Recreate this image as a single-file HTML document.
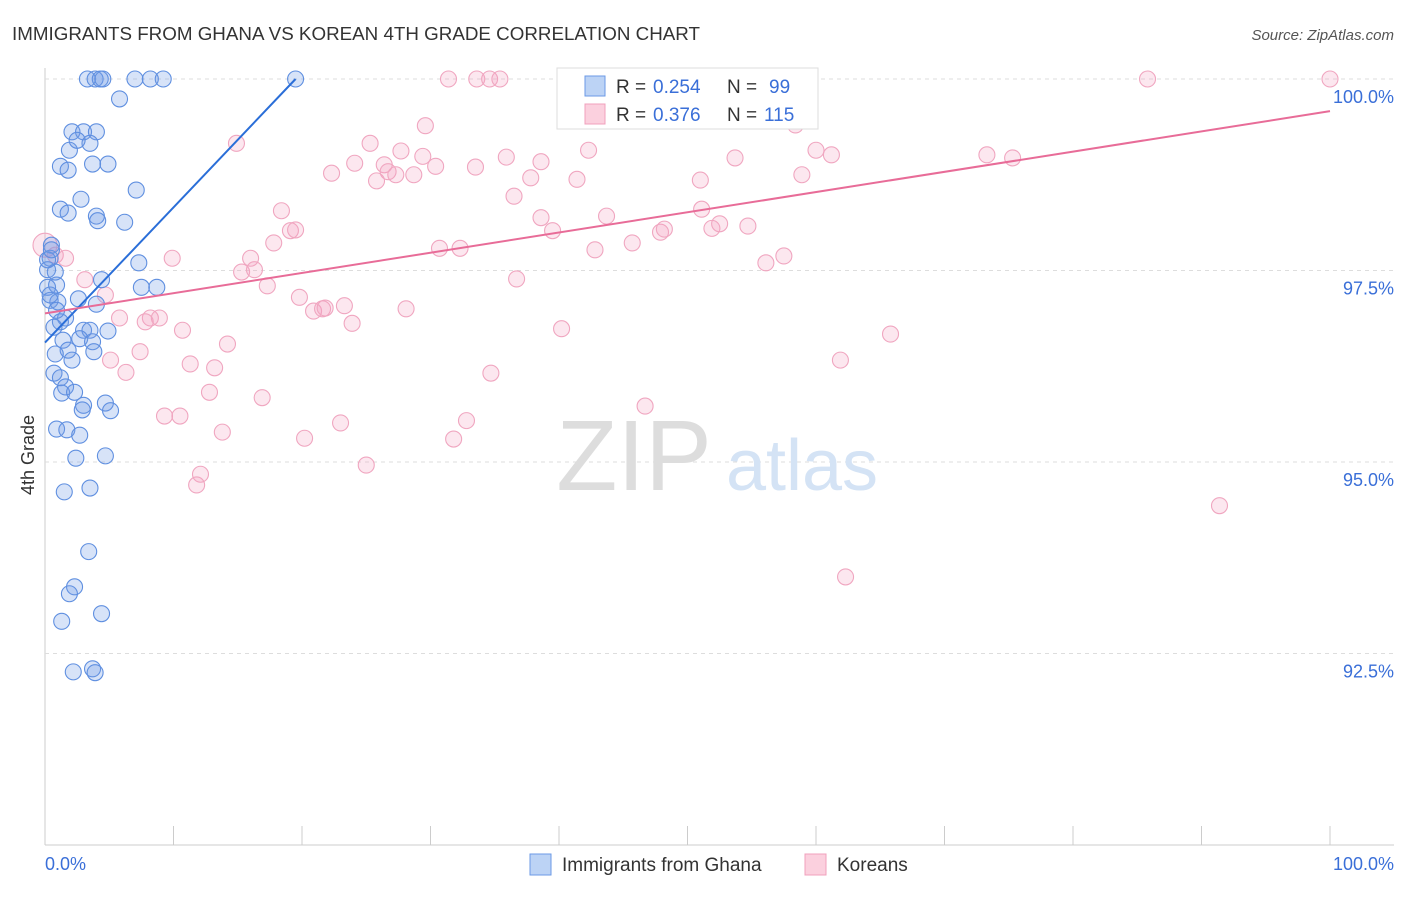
<!DOCTYPE html>
<html><head><meta charset="utf-8"><style>
body{margin:0;background:#fff;font-family:"Liberation Sans",sans-serif;}
svg text{font-family:"Liberation Sans",sans-serif;}
</style></head><body>
<svg id="chart" width="1406" height="892" viewBox="0 0 1406 892">
<text x="12" y="40" font-size="18" fill="#333" textLength="688" lengthAdjust="spacingAndGlyphs">IMMIGRANTS FROM GHANA VS KOREAN 4TH GRADE CORRELATION CHART</text>
<text x="1394" y="40" font-size="15" fill="#555" text-anchor="end" font-style="italic">Source: ZipAtlas.com</text>
<g id="grid"></g>
<g>
<text x="634" y="490" font-size="100" fill="#ddd" text-anchor="middle" font-family="Liberation Serif">ZIP</text>
<text x="802" y="490" font-size="72" fill="#d4e3f5" text-anchor="middle">atlas</text>
</g>
<g id="pts"></g>
<g id="lines"></g>
<text x="34" y="455" font-size="18" fill="#333" text-anchor="middle" transform="rotate(-90 34 455)">4th Grade</text>
<text x="45" y="870" font-size="18" fill="#3a6fd8">0.0%</text>
<text x="1394" y="870" font-size="18" fill="#3a6fd8" text-anchor="end">100.0%</text>
<g>
<rect x="557" y="68" width="261" height="61" fill="#fff" stroke="#ddd"/>
<rect x="585" y="76" width="20" height="20" fill="#bcd3f5" stroke="#6b9ae6"/>
<rect x="585" y="104" width="20" height="20" fill="#fbd0de" stroke="#f0a0bc"/>
<text y="93" font-size="19" fill="#333"><tspan x="616">R =</tspan><tspan x="653" fill="#3a6fd8">0.254</tspan><tspan x="727">N =</tspan><tspan x="769" fill="#3a6fd8">99</tspan></text>
<text y="121" font-size="19" fill="#333"><tspan x="616">R =</tspan><tspan x="653" fill="#3a6fd8">0.376</tspan><tspan x="727">N =</tspan><tspan x="764" fill="#3a6fd8">115</tspan></text>
</g>
<g>
<rect x="530" y="854" width="21" height="21" fill="#bcd3f5" stroke="#6b9ae6"/>
<text x="562" y="871" font-size="19" fill="#333">Immigrants from Ghana</text>
<rect x="805" y="854" width="21" height="21" fill="#fbd0de" stroke="#f0a0bc"/>
<text x="837" y="871" font-size="19" fill="#333">Koreans</text>
</g>
</svg>
<script>
const yTicks=[100,97.5,95,92.5];
const yTickLabels=["100.0%","97.5%","95.0%","92.5%"];
const xTicks=[0,10,20,30,40,50,60,70,80,90,100];
const ghanaX=[3.3,3.9,4.3,4.5,7.0,8.2,9.2,19.5,5.8,2.1,3.0,4.0,1.9,3.5,2.5,1.2,1.8,4.9,3.7,7.1,2.8,1.2,1.8,4.0,4.1,6.2,0.5,0.4,0.2,0.8,7.3,4.4,8.7,7.5,0.2,0.9,0.4,1.0,2.6,4.0,1.6,1.2,0.7,3.0,3.5,4.9,1.4,2.7,3.7,1.8,3.8,0.8,2.1,0.7,1.2,1.6,1.3,2.3,4.7,3.0,2.9,5.1,0.9,1.7,2.7,2.4,4.7,1.5,3.5,3.4,2.3,1.9,4.4,1.3,2.2,3.7,3.9,0.2,0.5,0.4,0.9];
const ghanaY=[100,100,100,100,100,100,100,100,99.74,99.31,99.31,99.31,99.07,99.16,99.20,98.86,98.81,98.89,98.89,98.55,98.43,98.30,98.25,98.21,98.15,98.13,97.83,97.66,97.51,97.48,97.60,97.38,97.28,97.28,97.28,97.31,97.11,97.09,97.13,97.06,96.88,96.83,96.76,96.72,96.72,96.71,96.59,96.61,96.57,96.46,96.44,96.41,96.33,96.16,96.10,95.98,95.90,95.91,95.77,95.74,95.68,95.67,95.43,95.42,95.35,95.05,95.08,94.61,94.66,93.83,93.37,93.28,93.02,92.92,92.26,92.30,92.25,97.64,97.77,97.18,96.98];
const koreanX=[0,0.8,1.6,3.1,4.7,5.8,8.2,8.9,7.8,10.7,5.1,7.4,6.3,11.3,13.2,14.2,12.8,16.9,9.3,10.5,13.8,20.2,23.0,12.1,11.8,25.0,31.8,32.8,34.7,40.2,46.7,61.9,65.8,62.3,91.4,14.9,18.4,19.1,19.5,17.8,9.9,15.3,16.0,16.3,17.3,19.8,20.9,21.6,21.8,23.3,23.9,28.1,36.7,30.7,32.3,22.3,24.1,25.3,26.4,26.7,25.8,27.3,27.7,28.7,29.4,30.4,29.6,31.4,33.6,34.6,35.4,35.9,33.5,36.5,37.8,38.6,38.6,39.5,41.4,42.3,42.8,43.7,45.7,47.9,48.2,48.3,51.0,51.1,51.9,52.5,53.7,54.7,56.1,57.5,58.4,58.9,60.0,61.2,73.3,75.3,85.8,100,40.9,47.3,50.2,51.8,59.0];
const koreanY=[97.83,97.70,97.66,97.38,97.18,96.88,96.88,96.88,96.83,96.72,96.33,96.44,96.17,96.28,96.23,96.54,95.91,95.84,95.60,95.60,95.39,95.31,95.51,94.84,94.70,94.96,95.30,95.54,96.16,96.74,95.73,96.33,96.67,93.50,94.43,99.16,98.28,98.02,98.03,97.86,97.66,97.48,97.66,97.51,97.30,97.15,96.97,97.00,97.01,97.04,96.81,97.00,97.39,97.79,97.79,98.77,98.90,99.16,98.88,98.79,98.67,98.75,99.06,98.75,98.99,98.86,99.39,100,100,100,100,98.98,98.85,98.47,98.71,98.92,98.19,98.02,98.69,99.07,97.77,98.21,97.86,98.00,98.04,100,98.68,98.30,98.05,98.11,98.97,98.08,97.60,97.69,99.40,98.75,99.07,99.01,99.01,98.97,100,100,100,100,100,100,100];
const ghanaTrend=[0,96.56,19.5,100];
const koreanTrend=[0,96.94,100,99.58];
const NS="http://www.w3.org/2000/svg";
function sx(v){return 45+v*12.85;}
function sy(v){return 79+(100-v)*76.6;}
function mk(t,a,p){const e=document.createElementNS(NS,t);for(const k in a)e.setAttribute(k,a[k]);p.appendChild(e);return e;}
const grid=document.getElementById('grid');
const ax=mk('line',{x1:45,y1:68,x2:45,y2:845,stroke:'#ccc'},grid);


const bx=mk('line',{x1:45,y1:845,x2:1394,y2:845,stroke:'#ccc'},grid);


yTicks.forEach((t,i)=>{
 const l=mk('line',{x1:45,x2:1394,y1:sy(t),y2:sy(t),stroke:'#ddd','stroke-dasharray':'4,4'},grid);
 
 
 const tx=mk('text',{x:1394,y:sy(t)+24,'font-size':18,fill:'#3a6fd8','text-anchor':'end'},grid);
 tx.textContent=yTickLabels[i];
 
 
});
xTicks.forEach(t=>{
 const l=mk('line',{x1:sx(t),x2:sx(t),y1:826,y2:845,stroke:'#ccc'},grid);
 
 
});
const pts=document.getElementById('pts');
koreanX.forEach((x,i)=>{
 const c=mk('circle',{cx:sx(x),cy:sy(koreanY[i]),r:i==0?12:8,fill:'rgba(245,160,190,0.25)',stroke:'#f0a6c0','stroke-width':1.1},pts);
 
 
});
ghanaX.forEach((x,i)=>{
 const c=mk('circle',{cx:sx(x),cy:sy(ghanaY[i]),r:8,fill:'rgba(110,155,230,0.28)',stroke:'#5f8fe0','stroke-width':1.1},pts);
 
 
});
const lines=document.getElementById('lines');
const lb=mk('line',{x1:sx(ghanaTrend[0]),y1:sy(ghanaTrend[1]),x2:sx(ghanaTrend[2]),y2:sy(ghanaTrend[3]),stroke:'#2a6ed8','stroke-width':2},lines);


const lp=mk('line',{x1:sx(koreanTrend[0]),y1:sy(koreanTrend[1]),x2:sx(koreanTrend[2]),y2:sy(koreanTrend[3]),stroke:'#e86c98','stroke-width':2},lines);


</script>
</body></html>
